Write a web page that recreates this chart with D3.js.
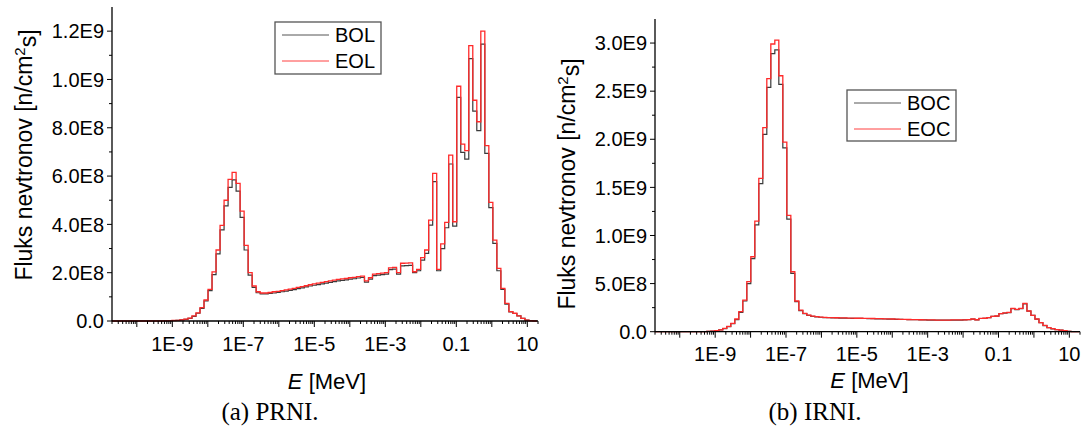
<!DOCTYPE html>
<html>
<head>
<meta charset="utf-8">
<script src="https://cdn.jsdelivr.net/npm/d3@7"></script>
<style>
  body { margin: 0; background: #fff; }
  text { font-family: "Liberation Sans", Arial, sans-serif; fill: #000; }
</style>
</head>
<body>
<svg id="chart" width="1083" height="432"></svg>
<script>
// flux per energy group, in units of 1E8 n/cm2s
var unit = 1e8;
// group structure: log-uniform bins, first edge and width in decades
var binLog0 = -10.706;
var binStep = 0.113;

var prniBOL = [
  0, 0, 0, 0, 0, 0, 0, 0, 0, 0,
  0, 0, 0, 0.005, 0.01, 0.02, 0.03, 0.05, 0.07, 0.11,
  0.19, 0.32, 0.52, 0.83, 1.26, 1.92, 2.78, 3.77, 4.77, 5.53,
  5.84, 5.38, 4.29, 2.94, 1.90, 1.39, 1.17, 1.12, 1.12, 1.14,
  1.16, 1.18, 1.21, 1.24, 1.27, 1.30, 1.34, 1.37, 1.41, 1.45,
  1.48, 1.51, 1.54, 1.57, 1.60, 1.63, 1.66, 1.68, 1.70, 1.73,
  1.75, 1.78, 1.80, 1.61, 1.73, 1.88, 1.90, 1.92, 1.94, 2.13,
  2.15, 1.94, 2.28, 2.29, 2.30, 2.00, 2.08, 2.52, 2.80, 3.97,
  5.77, 2.08, 3.00, 3.86, 6.50, 3.93, 9.26, 6.98, 6.70, 10.86,
  8.69, 7.88, 11.46, 6.94, 4.69, 3.21, 2.08, 1.31, 0.70, 0.38,
  0.31, 0.21, 0.11, 0.04, 0.01, 0
];
var prniEOL = [
  0, 0, 0, 0, 0, 0, 0, 0, 0, 0,
  0, 0, 0, 0.005, 0.01, 0.02, 0.03, 0.05, 0.08, 0.12,
  0.21, 0.34, 0.55, 0.87, 1.31, 2.03, 2.94, 3.96, 5.00, 5.86,
  6.15, 5.70, 4.55, 3.13, 2.00, 1.45, 1.21, 1.16, 1.16, 1.18,
  1.21, 1.23, 1.26, 1.29, 1.32, 1.35, 1.39, 1.42, 1.46, 1.50,
  1.54, 1.57, 1.60, 1.63, 1.66, 1.69, 1.72, 1.74, 1.76, 1.79,
  1.81, 1.84, 1.86, 1.66, 1.79, 1.94, 1.96, 1.98, 2.00, 2.20,
  2.22, 2.00, 2.39, 2.40, 2.41, 2.04, 2.14, 2.62, 2.94, 4.18,
  6.11, 2.14, 3.19, 4.08, 6.87, 4.11, 9.72, 7.32, 7.05, 11.40,
  9.14, 8.25, 12.00, 7.26, 4.91, 3.35, 2.18, 1.35, 0.73, 0.39,
  0.32, 0.21, 0.11, 0.04, 0.01, 0
];
var irniBOC = [
  0, 0, 0, 0, 0, 0, 0, 0, 0, 0,
  0, 0.005, 0.015, 0.03, 0.05, 0.10, 0.19, 0.32, 0.52, 0.83,
  1.25, 2.00, 3.19, 5.00, 7.60, 11.1, 15.4, 20.5, 25.4, 28.9,
  29.3, 25.7, 19.1, 11.7, 6.06, 3.12, 2.20, 1.87, 1.70, 1.60,
  1.54, 1.50, 1.47, 1.45, 1.44, 1.43, 1.42, 1.41, 1.40, 1.39,
  1.38, 1.38, 1.37, 1.36, 1.35, 1.34, 1.33, 1.32, 1.31, 1.30,
  1.29, 1.28, 1.27, 1.26, 1.25, 1.24, 1.23, 1.22, 1.21, 1.21,
  1.20, 1.20, 1.20, 1.20, 1.21, 1.21, 1.21, 1.22, 1.24, 1.31,
  1.23, 1.37, 1.39, 1.45, 1.59, 1.62, 1.87, 1.94, 1.99, 2.40,
  2.30, 2.40, 2.90, 2.13, 1.69, 1.31, 0.93, 0.64, 0.41, 0.30,
  0.22, 0.17, 0.10, 0.04, 0.01, 0
];
var irniEOC = [
  0, 0, 0, 0, 0, 0, 0, 0, 0, 0,
  0, 0.005, 0.015, 0.03, 0.06, 0.11, 0.20, 0.34, 0.55, 0.87,
  1.32, 2.08, 3.29, 5.20, 7.79, 11.5, 15.93, 21.2, 26.3, 29.9,
  30.3, 26.6, 19.7, 12.1, 6.23, 3.19, 2.25, 1.90, 1.72, 1.62,
  1.56, 1.52, 1.49, 1.47, 1.46, 1.45, 1.44, 1.43, 1.42, 1.41,
  1.40, 1.40, 1.39, 1.38, 1.37, 1.36, 1.35, 1.34, 1.33, 1.32,
  1.30, 1.29, 1.28, 1.27, 1.26, 1.25, 1.24, 1.23, 1.22, 1.22,
  1.21, 1.21, 1.21, 1.21, 1.22, 1.22, 1.22, 1.23, 1.25, 1.32,
  1.24, 1.38, 1.40, 1.46, 1.60, 1.63, 1.88, 1.95, 2.00, 2.42,
  2.32, 2.42, 2.94, 2.15, 1.70, 1.32, 0.94, 0.65, 0.42, 0.31,
  0.22, 0.17, 0.10, 0.04, 0.01, 0
];

var xTickValues = [1e-9, 1e-7, 1e-5, 1e-3, 0.1, 10];
var xTickLabels = ["1E-9", "1E-7", "1E-5", "1E-3", "0.1", "10"];
var prniYTicks = [0, 2e8, 4e8, 6e8, 8e8, 1e9, 1.2e9];
var irniYTicks = [0, 5e8, 1e9, 1.5e9, 2e9, 2.5e9, 3e9];
var prniNames = ["BOL", "EOL"];
var irniNames = ["BOC", "EOC"];

var svg = d3.select("#chart");
var nBins = prniEOL.length;
var edges = d3.range(nBins + 1).map(function (i) { return Math.pow(10, binLog0 + i * binStep); });

function fmtY(v) {
    if (v === 0) return "0.0";
    return d3.format(".1e")(v).replace("e+", "E");
}

function drawPanel(p)
{
    var g = svg.append("g");
    var x = d3.scaleLog().domain([2e-11, 20]).range([p.left, p.right]);
    var y = d3.scaleLinear().domain([0, p.yMax]).range([p.bottom, p.top]);

    // step curves
    var line = d3.line()
        .x(function (d) { return x(d[0]); })
        .y(function (d) { return y(d[1]); })
        .curve(d3.curveStepAfter);
    function pts(vals) {
        var a = vals.map(function (v, i) { return [edges[i], v * unit]; });
        a.push([edges[vals.length], vals[vals.length - 1] * unit]);
        return a;
    }
    g.append("path").attr("d", line(pts(p.series[0])))
        .attr("fill", "none").attr("stroke", "#3a3a3a").attr("stroke-width", 1.2);
    g.append("path").attr("d", line(pts(p.series[1])))
        .attr("fill", "none").attr("stroke", "#ff2a2a").attr("stroke-width", 1.3);

    // y axis
    g.append("line").attr("x1", p.left).attr("x2", p.left)
        .attr("y1", p.top).attr("y2", p.bottom).attr("stroke", "#000").attr("stroke-width", 1.3);
    var step = p.yTicks[1] - p.yTicks[0];
    var minor = d3.range(step / 2, p.yMax, step);
    g.selectAll(".ymin").data(minor).enter().append("line")
        .attr("x1", p.left - 3).attr("x2", p.left)
        .attr("y1", function (d) { return y(d); }).attr("y2", function (d) { return y(d); })
        .attr("stroke", "#000");
    g.selectAll(".ymaj").data(p.yTicks).enter().append("line")
        .attr("x1", p.left - 5).attr("x2", p.left)
        .attr("y1", function (d) { return y(d); }).attr("y2", function (d) { return y(d); })
        .attr("stroke", "#000");
    g.selectAll(".ylab").data(p.yTicks).enter().append("text")
        .attr("x", p.left - 8).attr("y", function (d) { return y(d); })
        .attr("dy", "0.36em").attr("text-anchor", "end")
        .style("font-size", "20px").text(fmtY);

    // x axis
    g.append("line").attr("x1", p.left).attr("x2", p.right)
        .attr("y1", p.bottom).attr("y2", p.bottom).attr("stroke", "#000").attr("stroke-width", 1.3);
    var majors = [], minors = [];
    for (var e = -11; e <= 1; e++) {
        for (var m = 1; m <= 9; m++) {
            var v = m * Math.pow(10, e);
            if (v < 2e-11 || v > 20) continue;
            if (m === 1) majors.push(v); else minors.push(v);
        }
    }
    g.selectAll(".xmin").data(minors).enter().append("line")
        .attr("x1", function (d) { return x(d); }).attr("x2", function (d) { return x(d); })
        .attr("y1", p.bottom).attr("y2", p.bottom + 3).attr("stroke", "#000");
    g.selectAll(".xmaj").data(majors).enter().append("line")
        .attr("x1", function (d) { return x(d); }).attr("x2", function (d) { return x(d); })
        .attr("y1", p.bottom).attr("y2", p.bottom + 6).attr("stroke", "#000");
    g.selectAll(".xlab").data(xTickValues).enter().append("text")
        .attr("x", function (d) { return x(d); }).attr("y", p.xLabelY)
        .attr("text-anchor", "middle").style("font-size", "20px")
        .text(function (d, i) { return xTickLabels[i]; });

    // axis titles
    var xt = g.append("text").attr("x", (p.left + p.right) / 2 + 2).attr("y", p.xTitleY)
        .attr("text-anchor", "middle").style("font-size", "22px");
    xt.append("tspan").style("font-style", "italic").text("E");
    xt.append("tspan").text(" [MeV]");

    var yt = g.append("text")
        .attr("transform", "translate(" + p.yTitleX + "," + p.yTitleY + ") rotate(-90)")
        .attr("text-anchor", "middle").style("font-size", "23px");
    yt.append("tspan").text("Fluks nevtronov [n/cm");
    yt.append("tspan").attr("dy", "-0.45em").style("font-size", "15px").text("2");
    yt.append("tspan").attr("dy", "0.45em").text("s]");

    // legend
    var L = p.legend;
    g.append("rect").attr("x", L.x).attr("y", L.y).attr("width", L.w).attr("height", L.h)
        .attr("fill", "#fff").attr("stroke", "#555").attr("stroke-width", 1.3);
    var colors = ["#555", "#ff4040"];
    p.names.forEach(function (name, i) {
        var ly = L.y + 13 + i * 26;
        g.append("line").attr("x1", L.x + 7).attr("x2", L.x + 54)
            .attr("y1", ly).attr("y2", ly).attr("stroke", colors[i]).attr("stroke-width", 1);
        g.append("text").attr("x", L.x + 60).attr("y", ly).attr("dy", "0.36em")
            .style("font-size", "20px").text(name);
    });

    // caption
    svg.append("text").attr("x", p.captionX).attr("y", 420)
        .attr("text-anchor", "middle")
        .style("font-family", "'Liberation Serif', 'Times New Roman', serif")
        .style("font-size", "25px").text(p.caption);
}

drawPanel({
    left: 112, right: 538, top: 7, bottom: 321, yMax: 1.3e9,
    yTicks: prniYTicks, series: [prniBOL, prniEOL], names: prniNames,
    xLabelY: 351, xTitleY: 389, yTitleX: 32, yTitleY: 155,
    legend: { x: 275, y: 22, w: 106, h: 52 },
    caption: "(a) PRNI.", captionX: 270
});
drawPanel({
    left: 655, right: 1080, top: 19, bottom: 331.7, yMax: 3.25e9,
    yTicks: irniYTicks, series: [irniBOC, irniEOC], names: irniNames,
    xLabelY: 361, xTitleY: 388, yTitleX: 575, yTitleY: 184,
    legend: { x: 847, y: 90, w: 109, h: 51 },
    caption: "(b) IRNI.", captionX: 815
});
</script>
</body>
</html>
